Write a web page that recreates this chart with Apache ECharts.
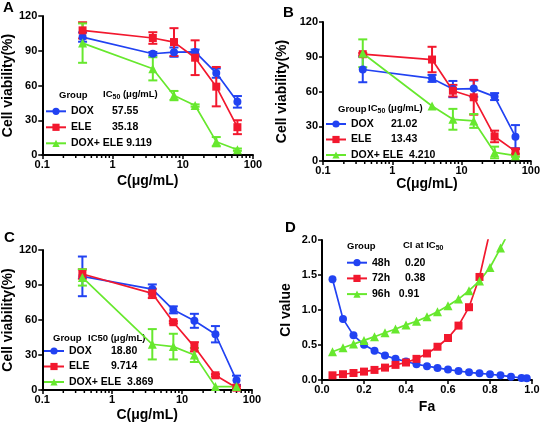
<!DOCTYPE html>
<html><head><meta charset="utf-8">
<script src="https://cdn.jsdelivr.net/npm/echarts@6/dist/echarts.min.js"></script>
<style>html,body{margin:0;padding:0;background:#fff}#c{width:543px;height:428px}</style>
</head><body><div id="c"></div><script>
// ---------- data ----------
const conc = [0.375, 3.75, 7.5, 15, 30, 60];
const xTickLabels = ['0.1', '1', '10', '100'];
const minorTicks = [0.2,0.3,0.4,0.5,0.6,0.7,0.8,0.9,2,3,4,5,6,7,8,9,20,30,40,50,60,70,80,90];
const seriesNames = ['DOX', 'ELE', 'DOX+ ELE'];

// Panel A
const doxA = [101.8, 87.4, 88.8, 89.0, 70.7, 45.9];
const doxAErr = [4, 1.5, 4, 2, 4, 5];
const eleA = [107.6, 101.0, 97.5, 84.0, 59.0, 24.0];
const eleAErr = [7, 5, 12, 15, 17, 6];
const comboA = [96.6, 74.4, 51.3, 42.7, 11.5, 4.6];
const comboAErr = [17, 10, 4, 1, 4, 1];
const ic50A = ['57.55', '35.18', '9.119'];

// Panel B
const doxB = [79.0, 71.3, 62.1, 62.5, 55.6, 21.0];
const doxBErr = [11, 3, 7, 7, 3, 10];
const eleB = [92.2, 87.6, 60.7, 55.0, 21.2, 8.3];
const eleBErr = [1, 11, 5, 15, 5, 2];
const comboB = [93.0, 47.5, 36.0, 34.6, 7.4, 4.6];
const comboBErr = [12, 0, 9, 6, 5, 1];
const ic50B = ['21.02', '13.43', '4.210'];

// Panel C
const doxC = [97.4, 86.5, 68.7, 59.3, 47.8, 8.3];
const doxCErr = [17, 4, 3, 6, 7, 4];
const eleC = [99.4, 82.8, 58.1, 37.0, 12.6, 2.0];
const eleCErr = [4, 4, 1, 4, 1, 1];
const comboC = [96.5, 39.2, 37.2, 30.0, 2.9, 2.9];
const comboCErr = [7, 13, 11, 6, 0, 0];
const ic50C = ['18.80', '9.714', '3.869'];

// Panel D
const fa48 = [0.05,0.10,0.15,0.20,0.25,0.30,0.35,0.40,0.45,0.50,0.55,0.60,0.65,0.70,0.75,0.80,0.85,0.90,0.95,0.975];
const ci48 = [1.439,0.873,0.638,0.504,0.417,0.350,0.302,0.264,0.225,0.197,0.173,0.149,0.129,0.110,0.096,0.082,0.067,0.048,0.029,0.024];
const fa72 = [0.05,0.10,0.15,0.20,0.25,0.30,0.35,0.40,0.45,0.50,0.55,0.60,0.65,0.70,0.75,0.80];
const ci72 = [0.067,0.082,0.100,0.120,0.144,0.177,0.216,0.250,0.302,0.379,0.475,0.600,0.777,1.040,1.472,2.130];
const fa96 = [0.05,0.10,0.15,0.20,0.25,0.30,0.35,0.40,0.45,0.50,0.55,0.60,0.65,0.70,0.75,0.80,0.85,0.90];
const ci96 = [0.403,0.460,0.513,0.566,0.619,0.676,0.729,0.787,0.839,0.902,0.974,1.060,1.156,1.276,1.415,1.607,1.885,2.170];
const groupsD = ['48h', '72h', '96h'];
const ciAtIC50 = ['0.20', '0.38', '0.91'];

// ---------- style ----------
const FONT = 'Arial, "Liberation Sans", Helvetica, sans-serif';
const BLUE = '#2142f2', RED = '#f2182e', GREEN = '#67e82e';
const COLORS = [BLUE, RED, GREEN];
const SYMBOLS = ['circle', 'rect', 'triangle'];

const grids = [
  {left: 42, top: 16, width: 211, height: 139},
  {left: 323, top: 22, width: 210, height: 139},
  {left: 42, top: 250, width: 210, height: 140},
  {left: 322, top: 240, width: 210, height: 140}
];

function nameStyle(){ return {fontSize: 14, fontWeight: 'bold', color: '#000', fontFamily: FONT}; }
function axisCommon(){
  return {
    axisLine: {show: true, onZero: false, lineStyle: {color: '#000', width: 2}},
    axisTick: {show: true, length: 4, lineStyle: {color: '#000', width: 1.5}},
    splitLine: {show: false},
    nameTextStyle: nameStyle()
  };
}
const tickFont = {color: '#000', fontWeight: 'bold', fontSize: 11, fontFamily: FONT};
function logX(gi, gap){
  return Object.assign(axisCommon(), {
    type: 'log', logBase: 10, min: 0.1, max: 100, gridIndex: gi,
    name: 'C(μg/mL)', nameLocation: 'middle', nameGap: gap,
    axisLabel: Object.assign({}, tickFont, {margin: 4,
      formatter: v => xTickLabels[Math.round(Math.log10(v)) + 1]})
  });
}
function valY(gi, gap){
  return Object.assign(axisCommon(), {
    type: 'value', min: 0, max: 120, interval: 30, gridIndex: gi,
    name: 'Cell viability(%)', nameLocation: 'middle', nameGap: gap,
    axisLabel: Object.assign({}, tickFont, {margin: 5})
  });
}

function errSeries(gi, color, vals, errs){
  const data = [];
  conc.forEach((c, i) => { if (errs[i] > 0) data.push([c, vals[i] - errs[i], vals[i] + errs[i]]); });
  return {
    type: 'custom', xAxisIndex: gi, yAxisIndex: gi, data, z: 2, silent: true,
    renderItem: (p, api) => {
      const x = api.value(0);
      const a = api.coord([x, api.value(2)]), b = api.coord([x, api.value(1)]);
      const w = 4.5, st = {stroke: color, lineWidth: 2};
      return {type: 'group', children: [
        {type: 'line', shape: {x1: a[0], y1: a[1], x2: b[0], y2: b[1]}, style: st},
        {type: 'line', shape: {x1: a[0]-w, y1: a[1], x2: a[0]+w, y2: a[1]}, style: st},
        {type: 'line', shape: {x1: b[0]-w, y1: b[1], x2: b[0]+w, y2: b[1]}, style: st}
      ]};
    }
  };
}
function lineSeries(gi, k, name, xs, ys){
  return {
    type: 'line', name, xAxisIndex: gi, yAxisIndex: gi, z: 3,
    data: xs.map((x, i) => [x, ys[i]]),
    symbol: SYMBOLS[k], symbolSize: k === 2 ? 9 : 8,
    lineStyle: {width: 1.7, color: COLORS[k]}, itemStyle: {color: COLORS[k]},
    emphasis: {disabled: true}
  };
}
function minorTickSeries(gi){
  return {
    type: 'custom', xAxisIndex: gi, yAxisIndex: gi, silent: true, z: 1, clip: false,
    data: minorTicks.map(v => [v, 0]),
    renderItem: (p, api) => {
      const c = api.coord([api.value(0), 0]);
      return {type: 'line', shape: {x1: c[0], y1: c[1], x2: c[0], y2: c[1] + 3}, style: {stroke: '#000', lineWidth: 1.5}};
    }
  };
}

const panels = [
  {vals: [doxA, eleA, comboA], errs: [doxAErr, eleAErr, comboAErr]},
  {vals: [doxB, eleB, comboB], errs: [doxBErr, eleBErr, comboBErr]},
  {vals: [doxC, eleC, comboC], errs: [doxCErr, eleCErr, comboCErr]}
];

const series = [];
panels.forEach((p, gi) => {
  series.push(minorTickSeries(gi));
  p.vals.forEach((v, k) => series.push(errSeries(gi, COLORS[k], v, p.errs[k])));
  p.vals.forEach((v, k) => series.push(lineSeries(gi, k, seriesNames[k], conc, v)));
});
series.push(lineSeries(3, 0, groupsD[0], fa48, ci48));
series.push(lineSeries(3, 1, groupsD[1], fa72, ci72));
series.push(lineSeries(3, 2, groupsD[2], fa96, ci96));

const txt = {fontWeight: 'bold', fontSize: 10.5, color: '#000', fontFamily: FONT, lineHeight: 13};
function legend(left, top, gap, names, values, widths, sep){
  return {
    left, top, orient: 'vertical', itemWidth: 20, itemHeight: 9, itemGap: gap, padding: 0,
    data: names, selectedMode: false,
    textStyle: Object.assign({}, txt, {rich: {
      n0: Object.assign({}, txt, {width: widths[0]}),
      n1: Object.assign({}, txt, {width: widths[1]}),
      n2: Object.assign({}, txt),
      v: Object.assign({}, txt)
    }}),
    formatter: name => {
      const i = names.indexOf(name);
      return '{n' + i + '|' + name + '}' + (i === 2 ? '{n2|' + sep + '}' : '') + '{v|' + values[i] + '}';
    }
  };
}

function label(x, y, text, size){
  return {type: 'text', left: x, top: y, style: {text, fontSize: size || 9.5, fontWeight: 'bold', fill: '#000', fontFamily: FONT}};
}
function subLabel(x, y, pre, sub, post){
  return {type: 'text', left: x, top: y, style: {
    text: '{a|' + pre + '}{s|' + sub + '}{a|' + post + '}',
    rich: {
      a: {fontSize: 9.5, fontWeight: 'bold', fill: '#000', fontFamily: FONT, lineHeight: 14},
      s: {fontSize: 7, fontWeight: 'bold', fill: '#000', fontFamily: FONT, lineHeight: 8, verticalAlign: 'bottom'}
    }
  }};
}

const option = {
  animation: false,
  backgroundColor: '#fff',
  grid: grids,
  xAxis: [logX(0, 19), logX(1, 13), logX(2, 18),
    Object.assign(axisCommon(), {type: 'value', gridIndex: 3, min: 0, max: 1, interval: 0.2,
      name: 'Fa', nameLocation: 'middle', nameGap: 20,
      axisLabel: Object.assign({}, tickFont, {margin: 4, formatter: v => v.toFixed(1)})})],
  yAxis: [valY(0, 25), valY(1, 34), valY(2, 25),
    Object.assign(axisCommon(), {type: 'value', gridIndex: 3, min: 0, max: 2, interval: 0.5,
      name: 'CI value', nameLocation: 'middle', nameGap: 29,
      axisLabel: Object.assign({}, tickFont, {margin: 5, formatter: v => v.toFixed(1)})})],
  legend: [
    legend(45, 104.8, 3, seriesNames, ic50A, [41, 41], ' '),
    legend(325, 117.5, 2.5, seriesNames, ic50B, [40, 40], '  '),
    legend(43, 344.5, 2.5, seriesNames, ic50C, [42, 42], '  '),
    legend(346, 256.2, 2.7, groupsD, ciAtIC50, [33, 33], '   ')
  ],
  graphic: [
    label(3, 0, 'A', 15), label(283, 5, 'B', 15), label(4, 230, 'C', 15), label(285, 220, 'D', 15),
    label(59, 90, 'Group'), subLabel(103, 89, 'IC', '50', ' (μg/mL)'),
    label(338, 104, 'Group'), subLabel(368, 103, 'IC', '50', ' (μg/mL)'),
    label(53, 333, 'Group'), label(88, 333, 'IC50 (μg/mL)'),
    label(347, 241, 'Group'), subLabel(403, 240, 'CI at IC', '50', '')
  ],
  series
};
const chart = echarts.init(document.getElementById('c'), null, {renderer: 'canvas'});
chart.setOption(option);
</script></body></html>
